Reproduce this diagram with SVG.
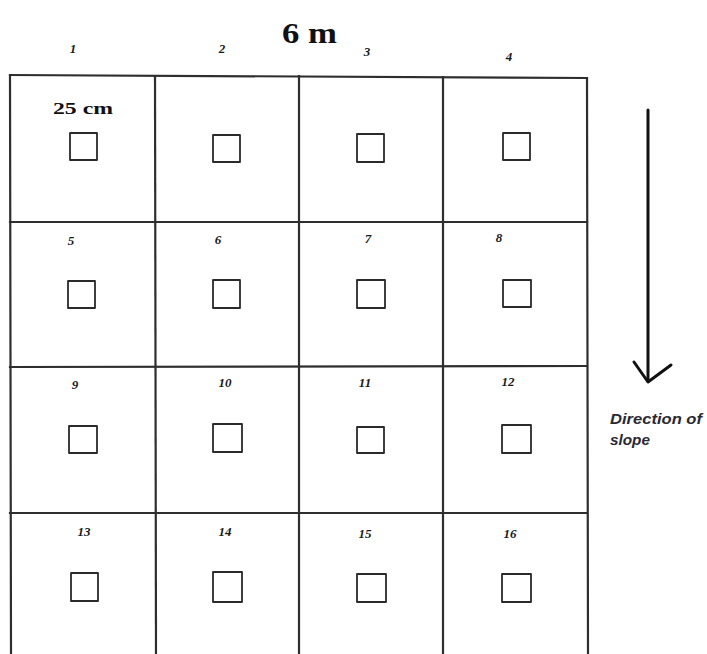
<svg xmlns="http://www.w3.org/2000/svg" width="707" height="654" viewBox="0 0 707 654">
<style>
.grid{stroke:#2e2e2e;stroke-width:2.2;fill:none;stroke-linecap:square}
.q{stroke:#2a2a2a;stroke-width:1.8;fill:none;stroke-linejoin:round}
.n{font-family:"Liberation Serif","DejaVu Serif",serif;font-weight:bold;font-style:italic;font-size:13px;fill:#1a1a1a;text-anchor:middle}
.t{font-family:"Liberation Serif","DejaVu Serif",serif;font-weight:bold;fill:#111}
.d{font-family:"Liberation Sans","DejaVu Sans",sans-serif;font-weight:bold;font-style:italic;font-size:14px;fill:#2a2a35}
</style>
<rect width="707" height="654" fill="#fff"/>
<g id="grid" class="grid">
<path d="M10 75 L587 78"/>
<path d="M10 222 L587 222"/>
<path d="M10 367 L587 366"/>
<path d="M10 513 L587 513"/>
<path d="M10 75 L11 654"/>
<path d="M155 76 L156 654"/>
<path d="M299 76 L299 654"/>
<path d="M443 77 L443 654"/>
<path d="M587 78 L588 654"/>
</g>
<text id="width-label" class="t" x="282" y="43" font-size="29" textLength="55" lengthAdjust="spacingAndGlyphs">6 m</text>
<text id="quadrat-label" class="t" x="53" y="114" font-size="17" textLength="60" lengthAdjust="spacingAndGlyphs">25 cm</text>
<g id="cell1"><text class="n" x="73" y="53">1</text><rect class="q" x="70" y="133" width="27" height="27"/></g>
<g id="cell2"><text class="n" x="222" y="53">2</text><rect class="q" x="213" y="135" width="27" height="27"/></g>
<g id="cell3"><text class="n" x="367" y="56">3</text><rect class="q" x="357" y="134" width="27" height="28"/></g>
<g id="cell4"><text class="n" x="509" y="61">4</text><rect class="q" x="503" y="133" width="27" height="27"/></g>
<g id="cell5"><text class="n" x="71" y="245">5</text><rect class="q" x="68" y="281" width="27" height="27"/></g>
<g id="cell6"><text class="n" x="218" y="244">6</text><rect class="q" x="213" y="280" width="27" height="28"/></g>
<g id="cell7"><text class="n" x="368" y="243">7</text><rect class="q" x="357" y="280" width="28" height="28"/></g>
<g id="cell8"><text class="n" x="499" y="242">8</text><rect class="q" x="503" y="280" width="28" height="27"/></g>
<g id="cell9"><text class="n" x="75" y="389">9</text><rect class="q" x="69" y="426" width="28" height="27"/></g>
<g id="cell10"><text class="n" x="225" y="387">10</text><rect class="q" x="213" y="424" width="29" height="28"/></g>
<g id="cell11"><text class="n" x="365" y="387">11</text><rect class="q" x="357" y="427" width="27" height="26"/></g>
<g id="cell12"><text class="n" x="508" y="386">12</text><rect class="q" x="502" y="425" width="29" height="28"/></g>
<g id="cell13"><text class="n" x="84" y="536">13</text><rect class="q" x="71" y="573" width="27" height="28"/></g>
<g id="cell14"><text class="n" x="225" y="536">14</text><rect class="q" x="213" y="572" width="29" height="30"/></g>
<g id="cell15"><text class="n" x="365" y="538">15</text><rect class="q" x="357" y="574" width="29" height="28"/></g>
<g id="cell16"><text class="n" x="510" y="538">16</text><rect class="q" x="502" y="574" width="29" height="28"/></g>
<g id="slope-arrow" stroke="#111" stroke-width="3" fill="none" stroke-linecap="round" stroke-linejoin="round">
<path d="M648 110 L648 381"/>
<path d="M634 362 L648 382 L671 365"/>
</g>
<g id="slope-label">
<text class="d" x="610" y="424" textLength="92" lengthAdjust="spacingAndGlyphs">Direction of</text>
<text class="d" x="610" y="445" textLength="40" lengthAdjust="spacingAndGlyphs">slope</text>
</g>
</svg>
